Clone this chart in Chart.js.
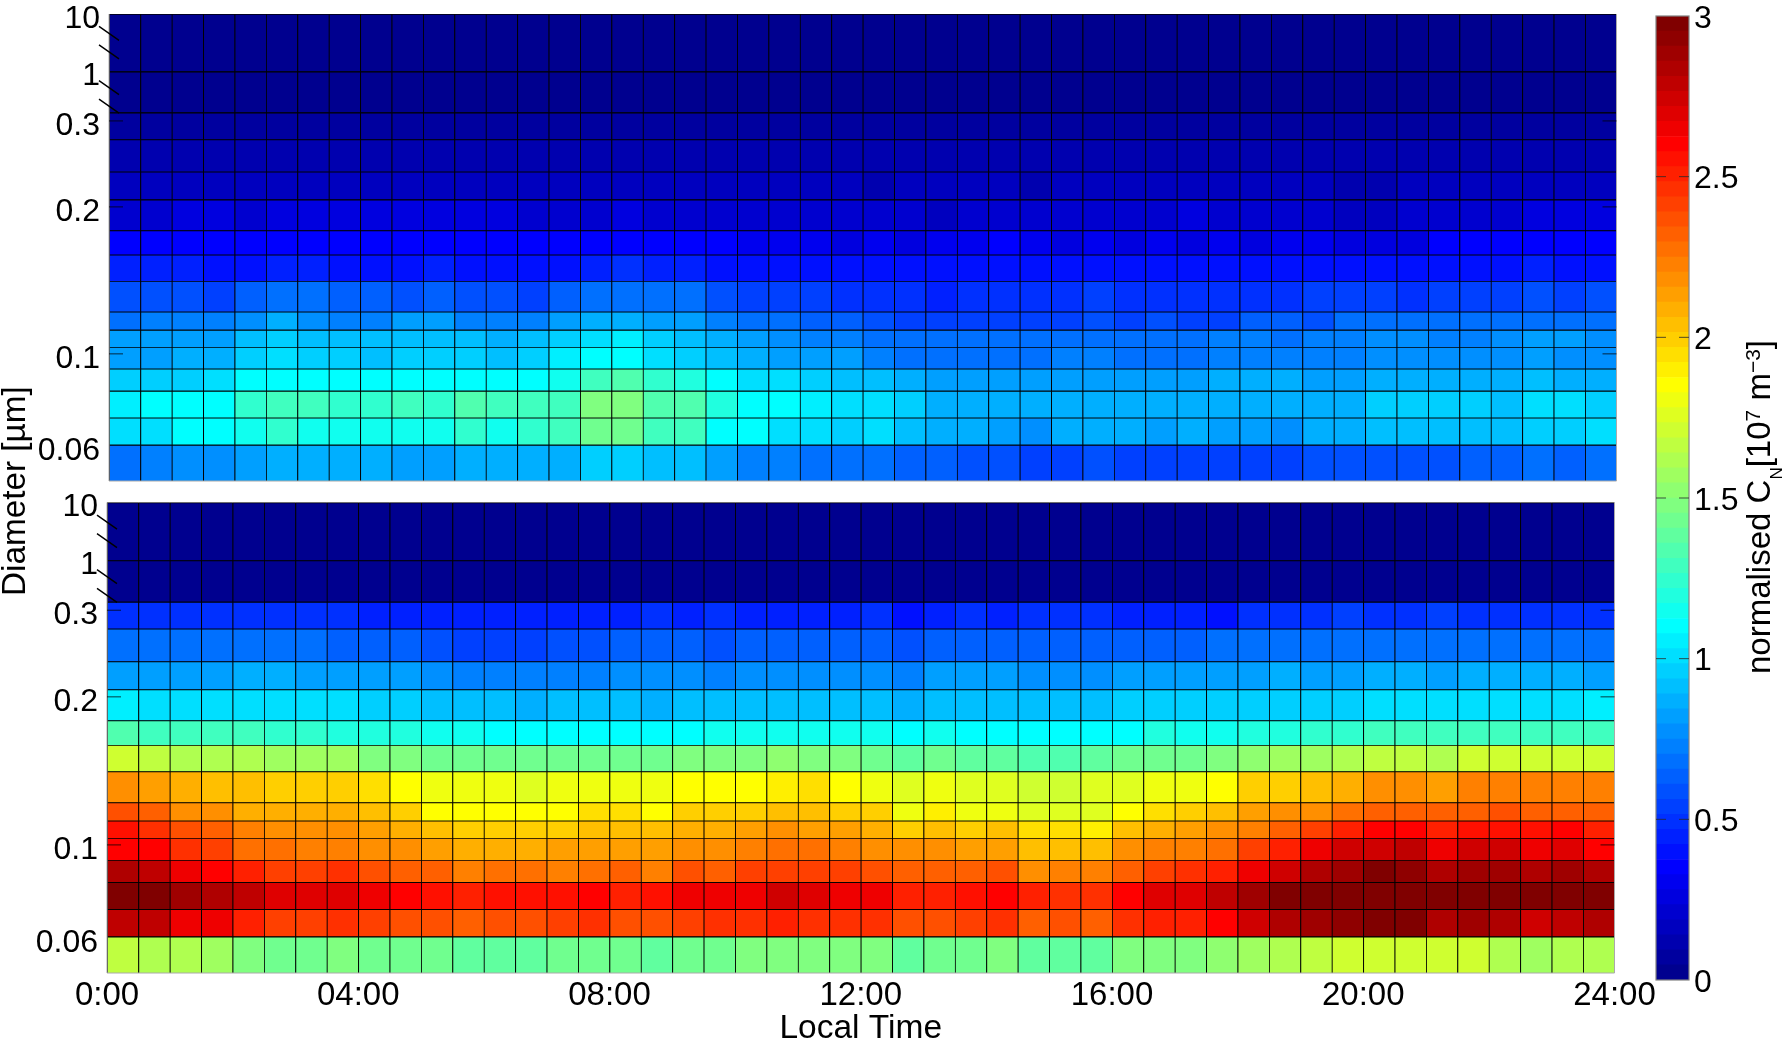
<!DOCTYPE html>
<html>
<head>
<meta charset="utf-8">
<title>Size distribution by local time</title>
<style>
html,body{margin:0;padding:0;background:#fff;overflow:hidden}
canvas{position:absolute;left:0;top:0}
</style>
<script src="https://cdn.jsdelivr.net/npm/chart.js@4"></script>
</head>
<body>
<canvas id="upper" width="1787" height="1044"></canvas>
<canvas id="lower" width="1787" height="1044"></canvas>
<canvas id="cbar" width="1787" height="1044"></canvas>
<script>
// half-hour bin centres, local time in hours
const binCentres = [.25,.75,1.25,1.75,2.25,2.75,3.25,3.75,4.25,4.75,5.25,5.75,6.25,6.75,7.25,7.75,8.25,8.75,9.25,9.75,10.25,10.75,11.25,11.75,12.25,12.75,13.25,13.75,14.25,14.75,15.25,15.75,16.25,16.75,17.25,17.75,18.25,18.75,19.25,19.75,20.25,20.75,21.25,21.75,22.25,22.75,23.25,23.75];
const hourTicks  = [0,4,8,12,16,20,24];
const hourLabels = ['0:00','04:00','08:00','12:00','16:00','20:00','24:00'];

// diameter bin edges (um), smallest first
const sizeEdges  = [.0549,.0651,.074,.084,.0932,.1033,.112,.122,.141,.1596,.179,.207,.236,.275,.312,1,10];
const sizeTicks  = [.0647,.1,.2,.3,1,10];
const sizeLabels = ['0.06','0.1','0.2','0.3','1','10'];
const innerTicks = [.1,.2,.3];
const breakMarks = [.375,.635,2.2,4.6];

const colorTicks  = [0,.5,1,1.5,2,2.5,3];
const colorLabels = ['0','0.5','1','1.5','2','2.5','3'];

// upper panel, one row per diameter bin, smallest diameter first
const upper0  = [.67,.75,.78,.78,.83,.875,.875,.875,.85,.83,.83,.875,.875,.875,.875,.96, .96,.92,.92,.8,.75,.72,.7,.68,.66,.63,.63,.59,.59,.54,.56,.6, .56,.56,.54,.54,.56,.52,.6,.58,.58,.58,.6,.62,.64,.66,.64,.7];
const upper1  = [1,1.03,1.08,1.1,1.17,1.22,1.17,1.16,1.16,1.17,1.16,1.22,1.17,1.22,1.31,1.41, 1.41,1.28,1.28,1.125,1.08,1.03,1,.96,1,.91,.89,.85,.83,.78,.85,.85, .88,.8,.85,.83,.8,.78,.85,.88,.91,.91,.91,.91,.91,.96,.96,1.03];
const upper2  = [1.05,1.08,1.08,1.125,1.22,1.28,1.28,1.25,1.22,1.28,1.25,1.34,1.28,1.28,1.31,1.47, 1.47,1.34,1.34,1.19,1.125,1.08,1.05,1,1,.94,.88,.88,.88,.85,.88,.85, .85,.85,.85,.88,.88,.88,.88,.88,.94,.94,.94,.94,.92,1,1,.97];
const upper3  = [.94,.97,.97,1.03,1.08,1.125,1.125,1.1,1.08,1.125,1.125,1.125,1.08,1.125,1.17,1.31, 1.34,1.22,1.19,1.1,1.03,.99,.97,.9,.9,.85,.8,.8,.8,.8,.8,.83, .83,.8,.8,.85,.85,.85,.83,.83,.85,.85,.88,.88,.88,.92,.88,.85];
const upper4  = [.8,.8,.85,.85,.97,1.03,.97,.97,.92,.97,.97,.97,.92,.97,1.05,1.1, 1.125,1.03,.97,.92,.85,.83,.8,.8,.75,.7,.68,.7,.7,.7,.72,.72, .7,.7,.7,.75,.75,.75,.72,.75,.78,.78,.78,.78,.78,.83,.78,.78];
const upper5  = [.8,.8,.8,.83,.92,.97,.92,.92,.92,.92,.92,.92,.85,.92,.97,1.03, 1.05,.97,.92,.88,.8,.78,.75,.75,.7,.66,.66,.66,.66,.66,.68,.68, .66,.66,.66,.72,.72,.68,.74,.75,.78,.78,.75,.75,.78,.8,.8,.78];
const upper6  = [.66,.72,.72,.72,.78,.88,.78,.75,.75,.8,.8,.75,.75,.75,.8,.85, .85,.8,.83,.72,.68,.66,.63,.63,.59,.56,.52,.56,.56,.56,.56,.6, .54,.58,.56,.56,.62,.62,.6,.66,.66,.66,.66,.66,.66,.66,.68,.7];
const upper7  = [.58,.58,.58,.56,.62,.7,.66,.63,.63,.6,.63,.58,.58,.55,.63,.68, .7,.66,.68,.6,.54,.52,.52,.5,.5,.47,.45,.5,.5,.5,.5,.52, .5,.5,.47,.5,.5,.47,.52,.52,.52,.5,.54,.52,.54,.6,.56,.6];
const upper8  = [.44,.44,.44,.42,.42,.45,.44,.42,.42,.42,.45,.42,.4,.4,.42,.45, .47,.45,.45,.42,.38,.38,.38,.38,.38,.38,.38,.4,.4,.4,.38,.4, .38,.38,.38,.42,.42,.42,.42,.42,.4,.4,.42,.42,.42,.44,.42,.42];
const upper9  = [.33,.33,.35,.35,.35,.37,.35,.35,.35,.35,.35,.33,.33,.33,.33,.35, .35,.37,.37,.33,.3,.3,.3,.28,.3,.28,.3,.3,.33,.3,.28,.3, .28,.3,.28,.3,.28,.3,.3,.28,.28,.28,.33,.35,.35,.37,.35,.37];
const upper10 = [.22,.22,.24,.24,.22,.28,.24,.24,.24,.24,.26,.24,.24,.22,.22,.22, .24,.22,.22,.2,.2,.19,.2,.19,.19,.19,.17,.2,.2,.19,.2,.22, .22,.2,.24,.2,.2,.22,.19,.17,.17,.19,.19,.2,.2,.24,.24,.24];
const upper11 = [.16,.16,.16,.16,.16,.18,.16,.16,.16,.16,.16,.16,.16,.16,.16,.16, .16,.16,.16,.15,.15,.15,.15,.15,.14,.15,.15,.15,.15,.14,.15,.15, .15,.15,.15,.15,.15,.15,.15,.14,.14,.15,.15,.15,.15,.15,.15,.15];
const upper12 = [.11,.11,.11,.11,.11,.11,.11,.11,.11,.11,.11,.11,.11,.11,.11,.11, .11,.11,.11,.1,.1,.1,.1,.1,.1,.1,.1,.1,.1,.1,.1,.1, .1,.1,.1,.1,.1,.1,.1,.1,.1,.1,.1,.1,.1,.1,.1,.1];
const upper13 = [.07,.07,.07,.07,.07,.07,.07,.07,.07,.07,.07,.07,.07,.07,.07,.07, .07,.07,.07,.07,.07,.07,.07,.07,.07,.07,.07,.07,.07,.07,.07,.07, .07,.07,.07,.07,.07,.07,.07,.07,.07,.07,.07,.07,.07,.07,.07,.07];
const upper14 = [.02,.02,.02,.02,.02,.02,.02,.02,.02,.02,.02,.02,.02,.02,.02,.02, .02,.02,.02,.02,.02,.02,.02,.02,.02,.02,.02,.02,.02,.02,.02,.02, .02,.02,.02,.02,.02,.02,.02,.02,.02,.02,.02,.02,.02,.02,.02,.02];
const upper15 = [0,0,0,0,0,0,0,0,0,0,0,0,0,0,0,0, 0,0,0,0,0,0,0,0,0,0,0,0,0,0,0,0, 0,0,0,0,0,0,0,0,0,0,0,0,0,0,0,0];

// lower panel, same layout
const lower0  = [1.66,1.63,1.63,1.55,1.47,1.44,1.44,1.47,1.44,1.44,1.44,1.38,1.38,1.38,1.41,1.41, 1.44,1.38,1.44,1.44,1.47,1.5,1.5,1.47,1.47,1.38,1.44,1.44,1.5,1.38,1.38,1.38, 1.47,1.5,1.5,1.53,1.58,1.62,1.66,1.72,1.72,1.72,1.7,1.7,1.64,1.58,1.64,1.64];
const lower1  = [2.78,2.78,2.63,2.63,2.52,2.42,2.43,2.48,2.42,2.38,2.36,2.34,2.36,2.38,2.4,2.44, 2.38,2.38,2.42,2.46,2.44,2.53,2.46,2.44,2.48,2.37,2.38,2.42,2.48,2.34,2.36,2.34, 2.44,2.5,2.52,2.6,2.73,2.82,2.9,2.95,2.97,2.96,2.84,2.9,2.82,2.76,2.8,2.82];
const lower2  = [3,3,2.88,2.84,2.78,2.68,2.68,2.68,2.63,2.58,2.54,2.5,2.54,2.54,2.54,2.58, 2.52,2.54,2.63,2.63,2.63,2.74,2.68,2.63,2.63,2.53,2.53,2.54,2.6,2.5,2.47,2.44, 2.58,2.68,2.68,2.78,2.9,3,3,3,3,3,3,3,3,3,3,3];
const lower3  = [2.85,2.8,2.63,2.58,2.5,2.42,2.42,2.44,2.36,2.33,2.3,2.22,2.26,2.26,2.22,2.28, 2.32,2.25,2.36,2.34,2.4,2.43,2.42,2.4,2.36,2.3,2.3,2.32,2.35,2.2,2.22,2.22, 2.34,2.4,2.44,2.53,2.63,2.72,2.82,2.9,2.97,2.92,2.82,2.9,2.88,2.84,2.88,2.84];
const lower4  = [2.6,2.58,2.45,2.4,2.28,2.28,2.25,2.25,2.2,2.18,2.12,2.1,2.1,2.1,2.12,2.14, 2.14,2.14,2.18,2.18,2.22,2.26,2.28,2.22,2.18,2.2,2.16,2.12,2.14,2.06,2.06,2.06, 2.16,2.22,2.25,2.28,2.42,2.53,2.63,2.72,2.76,2.78,2.65,2.72,2.72,2.65,2.68,2.62];
const lower5  = [2.55,2.46,2.38,2.32,2.22,2.2,2.16,2.16,2.12,2.08,2.05,2,1.97,1.97,2,2.04, 2.04,2.04,2.08,2.08,2.12,2.16,2.12,2.12,2.1,2,2.03,1.98,2.03,1.94,1.94,1.92, 2.05,2.08,2.12,2.16,2.22,2.32,2.42,2.5,2.6,2.6,2.5,2.55,2.56,2.55,2.58,2.5];
const lower6  = [2.35,2.3,2.2,2.16,2.1,2.08,2.08,2.08,2.03,2,1.875,1.875,1.875,1.875,1.875,1.94, 1.94,1.875,2,2,2,2.05,2.06,2,1.97,1.8,1.92,1.8,1.82,1.75,1.78,1.75, 1.875,1.94,1.98,2.06,2.12,2.16,2.2,2.28,2.34,2.32,2.3,2.34,2.38,2.34,2.32,2.3];
const lower7  = [2.2,2.14,2.1,2.05,2.02,2,1.97,1.97,1.94,1.875,1.82,1.8,1.82,1.78,1.82,1.82, 1.8,1.82,1.875,1.875,1.875,1.92,1.94,1.875,1.8,1.74,1.82,1.74,1.74,1.7,1.72,1.74, 1.76,1.82,1.82,1.875,2,1.97,2.06,2.1,2.2,2.16,2.12,2.25,2.25,2.25,2.22,2.22];
const lower8  = [1.72,1.66,1.63,1.6,1.6,1.57,1.57,1.57,1.5,1.5,1.44,1.44,1.44,1.41,1.41,1.41, 1.44,1.41,1.47,1.47,1.5,1.53,1.47,1.47,1.44,1.38,1.41,1.38,1.38,1.34,1.34,1.38, 1.44,1.41,1.41,1.47,1.53,1.57,1.57,1.6,1.66,1.66,1.63,1.72,1.72,1.72,1.72,1.69];
const lower9  = [1.34,1.31,1.28,1.28,1.28,1.25,1.22,1.2,1.2,1.2,1.17,1.16,1.125,1.125,1.125,1.125, 1.125,1.125,1.125,1.16,1.16,1.16,1.17,1.17,1.17,1.125,1.17,1.125,1.1,1.1,1.125,1.125, 1.125,1.2,1.17,1.17,1.2,1.2,1.22,1.22,1.31,1.28,1.28,1.31,1.31,1.31,1.28,1.31];
const lower10 = [1.05,1.03,1,1.03,1.03,1.03,1,1,.97,.97,.93,.93,.9,.88,.9,.92, .92,.88,.92,.92,.92,.92,.92,.92,.92,.88,.92,.9,.9,.92,.92,.92, .97,.97,.94,.97,.97,.97,.97,.97,1.03,1.03,1.03,1.03,1.03,1.03,1.03,1.05];
const lower11 = [.82,.82,.82,.84,.85,.85,.83,.8,.8,.8,.76,.75,.74,.74,.74,.74, .76,.76,.76,.72,.76,.76,.76,.76,.76,.74,.8,.8,.8,.76,.76,.78, .82,.82,.8,.82,.82,.85,.84,.84,.85,.85,.8,.85,.85,.85,.85,.8];
const lower12 = [.68,.68,.68,.68,.68,.68,.66,.64,.62,.62,.6,.56,.56,.56,.58,.58, .64,.62,.64,.6,.63,.64,.63,.63,.62,.6,.63,.64,.63,.62,.62,.63, .63,.64,.63,.66,.66,.68,.68,.68,.66,.68,.68,.68,.68,.68,.7,.68];
const lower13 = [.5,.49,.49,.49,.49,.47,.47,.47,.45,.45,.43,.43,.43,.43,.43,.43, .45,.47,.45,.47,.45,.45,.45,.45,.47,.42,.45,.47,.45,.47,.47,.47, .45,.44,.44,.42,.47,.5,.5,.52,.5,.5,.52,.5,.5,.5,.5,.49];
const lower14 = [.03,.03,.03,.03,.03,.03,.03,.03,.03,.03,.03,.03,.03,.03,.03,.03, .03,.03,.03,.03,.03,.03,.03,.03,.03,.03,.03,.03,.03,.03,.03,.03, .03,.03,.03,.03,.03,.03,.03,.03,.03,.03,.03,.03,.03,.03,.03,.03];
const lower15 = [0,0,0,0,0,0,0,0,0,0,0,0,0,0,0,0, 0,0,0,0,0,0,0,0,0,0,0,0,0,0,0,0, 0,0,0,0,0,0,0,0,0,0,0,0,0,0,0,0];

const upperRows = [upper0,upper1,upper2,upper3,upper4,upper5,upper6,upper7,upper8,upper9,upper10,upper11,upper12,upper13,upper14,upper15];
const lowerRows = [lower0,lower1,lower2,lower3,lower4,lower5,lower6,lower7,lower8,lower9,lower10,lower11,lower12,lower13,lower14,lower15];

const FONT = 'Liberation Sans';
Chart.defaults.font.family = FONT;
Chart.defaults.font.size = 32;
Chart.defaults.color = '#000';

// 64 level jet
const clamp01 = v => Math.max(0, Math.min(1, v));
function jet(i){
  const r = clamp01(Math.min((i-24)/16, (64-i)/16+.5));
  const g = clamp01(Math.min((i-8)/16, (56-i)/16));
  const b = clamp01(Math.min((i+8)/16, (40-i)/16));
  return `rgb(${Math.round(r*255)},${Math.round(g*255)},${Math.round(b*255)})`;
}
const valueColor = v => jet(Math.max(1, Math.min(64, Math.ceil(v/3*64))));

// broken log axis: log above .06, squeezed between .312 and 10
const LOG_BREAK = Math.log10(.312);
function sizePos(d){
  const l = Math.log10(d);
  if(d <= .312) return l;
  if(d <= 1) return LOG_BREAK + .084*(l-LOG_BREAK)/(-LOG_BREAK);
  return LOG_BREAK + .084 + .118*l;
}

function rotatedRuns(ctx, x, y, runs){
  ctx.save();
  ctx.translate(x, y);
  ctx.rotate(-Math.PI/2);
  ctx.fillStyle = '#000';
  ctx.textBaseline = 'alphabetic';
  ctx.textAlign = 'left';
  let at = 0;
  for(const r of runs){
    ctx.font = `${r.size}px "${FONT}"`;
    ctx.fillText(r.text, at, r.shift||0);
    at += ctx.measureText(r.text).width;
  }
  ctx.restore();
}

const panelMarks = {
  id: 'panelMarks',
  // dark backing so the antialiased cell seams do not let the white page through
  beforeDatasetsDraw(chart){
    const {ctx, chartArea: a} = chart;
    ctx.fillStyle = '#000';
    ctx.fillRect(a.left, a.top, a.right-a.left, a.bottom-a.top);
  },
  afterDraw(chart){
    const {ctx, chartArea: a, scales: {y}} = chart;
    ctx.save();
    ctx.strokeStyle = 'rgb(170,170,170)';
    ctx.lineWidth = 1;
    ctx.beginPath();
    ctx.moveTo(a.left, a.top); ctx.lineTo(a.left, a.bottom);
    ctx.lineTo(a.right, a.bottom); ctx.lineTo(a.right, a.top);
    ctx.stroke();
    ctx.strokeStyle = 'rgba(0,0,0,.75)';
    ctx.beginPath();
    for(const d of innerTicks){
      const py = y.getPixelForValue(sizePos(d));
      ctx.moveTo(a.left, py); ctx.lineTo(a.left+14, py);
      ctx.moveTo(a.right-14, py); ctx.lineTo(a.right, py);
    }
    ctx.stroke();
    ctx.strokeStyle = '#000';
    ctx.lineWidth = 1.4;
    ctx.beginPath();
    for(const d of breakMarks){
      const py = y.getPixelForValue(sizePos(d));
      ctx.moveTo(a.left-10, py-7); ctx.lineTo(a.left+10, py+7);
    }
    ctx.stroke();
    ctx.restore();
  }
};

const yTitle = {
  id: 'yTitle',
  afterDraw(chart){ rotatedRuns(chart.ctx, 25, 596, [{text:'Diameter [\u00b5m]', size:33.3}]); }
};

function panel(id, rows, box, showTime){
  const datasets = rows.map((vals, r) => ({
    data: vals.map((v, c) => ({x: binCentres[c], y: [sizePos(sizeEdges[r]), sizePos(sizeEdges[r+1])]})),
    backgroundColor: vals.map(valueColor),
    borderColor: '#000',
    borderWidth: {top:.8, left:.8, right:0, bottom:0},
    borderSkipped: false,
    inflateAmount: 0,
    grouped: false,
    barPercentage: 1,
    categoryPercentage: 1
  }));
  return new Chart(document.getElementById(id), {
    type: 'bar',
    data: {datasets},
    plugins: showTime ? [panelMarks] : [panelMarks, yTitle],
    options: {
      responsive: false,
      animation: false,
      layout: {padding: {left: 0, top: box.top, right: 1787-box.right, bottom: showTime ? 0 : 1044-box.bottom}},
      plugins: {legend: {display:false}, tooltip: {enabled:false}},
      scales: {
        x: {
          type: 'linear', min: 0, max: 24, offset: false,
          display: showTime,
          grid: {display:false, drawTicks:false}, border: {display:false},
          ticks: {autoSkip:false, maxRotation:0, padding:3, font:{size:33}, callback: (v, i) => hourLabels[i]},
          afterBuildTicks: s => { s.ticks = hourTicks.map(value => ({value})); },
          afterFit: s => { s.height = showTime ? 1044-box.bottom : 0; s.paddingLeft = 0; s.paddingRight = 0; },
          title: {display:showTime, text:'Local Time', font:{size:33.5, lineHeight:.9}, padding:0}
        },
        y: {
          type: 'linear', min: sizePos(sizeEdges[0]), max: sizePos(10),
          grid: {display:false, drawTicks:false}, border: {display:false},
          ticks: {autoSkip:false, padding:9, labelOffset:5, callback: (v, i) => sizeLabels[i]},
          afterBuildTicks: s => { s.ticks = sizeTicks.map(d => ({value: sizePos(d)})); },
          afterFit: s => { s.width = box.left; s.paddingTop = 0; s.paddingBottom = 0; }
        }
      }
    }
  });
}

panel('upper', upperRows, {left:109, top:14, right:1616.5, bottom:481}, false);
panel('lower', lowerRows, {left:107, top:502.5, right:1614.5, bottom:973}, true);

// colour bar
const barMarks = {
  id: 'barMarks',
  afterDraw(chart){
    const {ctx, chartArea: a, scales: {y}} = chart;
    ctx.save();
    ctx.strokeStyle = 'rgb(130,130,130)';
    ctx.lineWidth = 1.2;
    ctx.strokeRect(a.left, a.top, a.right-a.left, a.bottom-a.top);
    ctx.strokeStyle = 'rgba(40,40,40,.8)';
    ctx.lineWidth = 1;
    ctx.beginPath();
    for(const v of colorTicks.slice(1, -1)){
      const py = y.getPixelForValue(v);
      ctx.moveTo(a.left, py); ctx.lineTo(a.left+10, py);
      ctx.moveTo(a.right-10, py); ctx.lineTo(a.right, py);
    }
    ctx.stroke();
    ctx.restore();
    rotatedRuns(ctx, 1770, 674, [
      {text:'normalised C', size:33},
      {text:'N', size:17, shift:12},
      {text:'[10', size:33},
      {text:'7', size:21, shift:-10},
      {text:' m', size:33},
      {text:'\u22123', size:21, shift:-10},
      {text:']', size:33}
    ]);
  }
};

const levelIndex = [];
for(let i = 1; i <= 64; i++) levelIndex.push(i);

new Chart(document.getElementById('cbar'), {
  type: 'bar',
  data: {
    labels: [''],
    datasets: levelIndex.map(i => ({
      data: [[(i-1)/64*3, i/64*3]],
      backgroundColor: jet(i),
      borderWidth: 0,
      grouped: false,
      barPercentage: 1,
      categoryPercentage: 1
    }))
  },
  plugins: [barMarks],
  options: {
    responsive: false,
    animation: false,
    layout: {padding: {left:1656, top:16, right:0, bottom:1044-980}},
    plugins: {legend: {display:false}, tooltip: {enabled:false}},
    scales: {
      x: {display:false},
      y: {
        type: 'linear', position: 'right', min: 0, max: 3,
        grid: {display:false, drawTicks:false}, border: {display:false},
        ticks: {autoSkip:false, padding:5, labelOffset:3, callback: (v, i) => colorLabels[i]},
        afterBuildTicks: s => { s.ticks = colorTicks.map(value => ({value})); },
        afterFit: s => { s.width = 1787-1689; s.paddingTop = 0; s.paddingBottom = 0; }
      }
    }
  }
});
</script>
</body>
</html>
